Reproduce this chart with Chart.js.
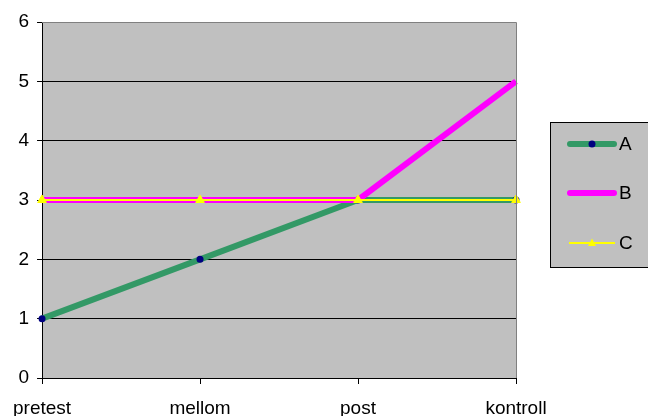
<!DOCTYPE html>
<html>
<head>
<meta charset="utf-8">
<script src="https://cdn.jsdelivr.net/npm/chart.js@4/dist/chart.umd.min.js"></script>
<style>
  html, body { margin: 0; padding: 0; background: #fff; }
  #wrap { width: 648px; height: 416px; position: relative; }
</style>
</head>
<body>
<div id="wrap"><canvas id="c" width="648" height="416"></canvas></div>
<script>
const categories = ['pretest', 'mellom', 'post', 'kontroll'];
const seriesA = [1, 2, 3, 3];
const seriesB = [3, 3, 3, 5];
const seriesC = [3, 3, 3, 3];
const yTicks = [0, 1, 2, 3, 4, 5, 6];

const FONT = '"Liberation Sans", Arial, sans-serif';

// Grey plot background and grey top/right frame
const plotFrame = {
  id: 'plotFrame',
  beforeDraw(chart) {
    const { ctx, chartArea: a } = chart;
    ctx.save();
    ctx.fillStyle = '#C0C0C0';
    ctx.fillRect(a.left, a.top, a.right - a.left, a.bottom - a.top);
    ctx.restore();
  },
  afterDatasetsDraw(chart) {
    const { ctx, chartArea: a } = chart;
    ctx.save();
    ctx.strokeStyle = '#808080';
    ctx.lineWidth = 1;
    ctx.beginPath();
    ctx.moveTo(a.left, a.top + 0.5);
    ctx.lineTo(a.right + 0.5, a.top + 0.5);
    ctx.lineTo(a.right + 0.5, a.bottom);
    ctx.stroke();
    ctx.restore();
  }
};

// Boxed legend at the right, built from the dataset styles
const boxLegend = {
  id: 'boxLegend',
  afterDraw(chart) {
    const { ctx } = chart;
    const x0 = 550.5, y0 = 122.5, x1 = 660, y1 = 267.5;
    ctx.save();
    ctx.fillStyle = '#C0C0C0';
    ctx.fillRect(x0, y0, x1 - x0, y1 - y0);
    ctx.strokeStyle = '#000';
    ctx.lineWidth = 1;
    ctx.strokeRect(x0, y0, x1 - x0, y1 - y0);
    const rows = [144, 193, 243];
    chart.data.datasets.forEach((ds, i) => {
      const y = rows[i];
      const thick = ds.borderWidth > 3;
      ctx.strokeStyle = ds.borderColor;
      ctx.lineWidth = ds.borderWidth;
      ctx.lineCap = thick ? 'round' : 'butt';
      ctx.beginPath();
      ctx.moveTo(thick ? 570 : 569, y);
      ctx.lineTo(thick ? 614 : 615, y);
      ctx.stroke();
      if (ds.pointRadius > 0) {
        const r = ds.pointRadius;
        ctx.fillStyle = ds.pointBackgroundColor;
        ctx.beginPath();
        if (ds.pointStyle === 'triangle') {
          ctx.moveTo(592, y - r * 0.9);
          ctx.lineTo(592 + r * 0.8, y + r * 0.6);
          ctx.lineTo(592 - r * 0.8, y + r * 0.6);
        } else {
          ctx.arc(592, y, r, 0, Math.PI * 2);
        }
        ctx.closePath();
        ctx.fill();
      }
      ctx.fillStyle = '#000';
      ctx.font = '19px ' + FONT;
      ctx.textBaseline = 'middle';
      ctx.textAlign = 'left';
      ctx.fillText(ds.label, 619, y + 1);
    });
    ctx.restore();
  }
};

new Chart(document.getElementById('c'), {
  type: 'line',
  data: {
    labels: categories,
    datasets: [
      {
        label: 'A', data: seriesA,
        borderColor: '#339966', borderWidth: 6,
        pointStyle: 'circle', pointRadius: 3.5, pointBorderWidth: 0,
        pointBackgroundColor: '#000080', pointBorderColor: '#000080',
        tension: 0, order: 3
      },
      {
        label: 'B', data: seriesB,
        borderColor: '#FF00FF', borderWidth: 6,
        pointRadius: 0,
        tension: 0, order: 2
      },
      {
        label: 'C', data: seriesC,
        borderColor: '#FFFF00', borderWidth: 2,
        pointStyle: 'triangle', pointRadius: 5, pointBorderWidth: 1,
        pointBackgroundColor: '#FFFF00', pointBorderColor: '#FFFF00',
        tension: 0, order: 1
      }
    ]
  },
  options: {
    responsive: false,
    animation: false,
    devicePixelRatio: 1,
    layout: { padding: { top: 22, right: 132, left: 0, bottom: 0 } },
    plugins: { legend: { display: false }, tooltip: { enabled: false } },
    elements: { line: { borderCapStyle: 'butt', borderJoinStyle: 'miter' } },
    scales: {
      x: {
        type: 'category',
        offset: false,
        grid: { drawOnChartArea: false, drawTicks: true, tickLength: 6, color: '#000' },
        border: { display: true, color: '#000', width: 1 },
        ticks: { color: '#000', font: { family: FONT, size: 19 }, padding: 13, maxRotation: 0, autoSkip: false },
        afterFit(s) { s.height = 38; }
      },
      y: {
        min: 0, max: 6,
        afterBuildTicks(s) { s.ticks = yTicks.map(v => ({ value: v })); },
        grid: { color: '#000', lineWidth: 1, drawTicks: true, tickLength: 5 },
        border: { display: true, color: '#000', width: 1 },
        ticks: { color: '#000', font: { family: FONT, size: 19 }, padding: 8 },
        afterFit(s) { s.width = 42; }
      }
    }
  },
  plugins: [plotFrame, boxLegend]
});
</script>
</body>
</html>
